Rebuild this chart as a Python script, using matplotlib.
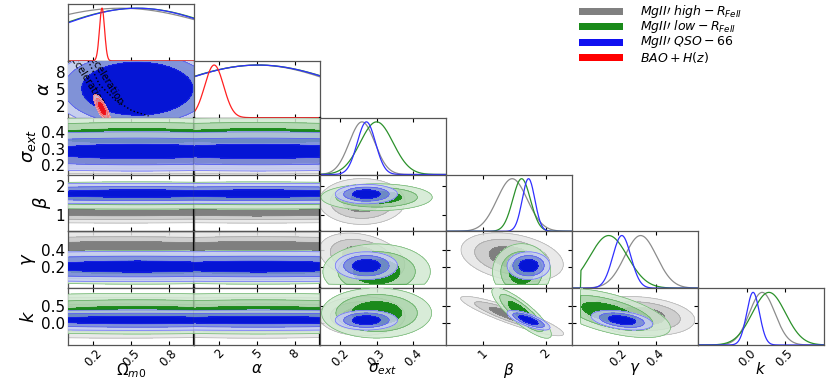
import numpy as np
import matplotlib.pyplot as plt
from matplotlib.colors import to_rgba
from matplotlib.patches import Rectangle

# parameters: Omega_m0, alpha, sigma_ext, beta, gamma, k
axis_labels = [r"$\Omega_{m0}$", r"$\alpha$", r"$\sigma_{ext}$", r"$\beta$", r"$\gamma$", r"$k$"]
ranges = [(0.0, 1.0), (0.0, 10.0), (0.145, 0.49), (0.42, 2.42), (-0.045, 0.625), (-0.65, 1.02)]
ticks = [[0.2, 0.5, 0.8], [2, 5, 8], [0.2, 0.3, 0.4], [1, 2], [0.2, 0.4], [0.0, 0.5]]
tick_text = [["0.2", "0.5", "0.8"], ["2", "5", "8"], ["0.2", "0.3", "0.4"],
             ["1", "2"], ["0.2", "0.4"], ["0.0", "0.5"]]
gamma_min = 0.0

legend_labels = [r"$MgII\prime\ high-R_{FeII}$", r"$MgII\prime\ low-R_{FeII}$",
                 r"$MgII\prime\ QSO-66$", r"$BAO+H(z)$"]
legend_colors = ["#808080", "#1a8a1a", "#1010f0", "#ff0000"]

# posterior summaries (mean, sd)
high_mean = [0.42, 5.0, 0.26, 1.47, 0.32, 0.20]
high_sd = [0.83, 7.0, 0.035, 0.24, 0.085, 0.17]
low_mean = [0.55, 5.1, 0.30, 1.62, 0.15, 0.29]
low_sd = [0.70, 7.3, 0.045, 0.14, 0.10, 0.22]
qso_mean = [0.55, 5.1, 0.272, 1.73, 0.22, 0.08]
qso_sd = [0.68, 7.2, 0.025, 0.10, 0.048, 0.085]

# the Omega / alpha columns show the bands at other places (sigma_ext, beta, gamma, k)
high_band_mean = [0.25, 1.10, 0.44, 0.15]
high_band_sd = [0.035, 0.13, 0.06, 0.20]
low_band_mean = [0.38, 1.68, 0.20, 0.27]
low_band_sd = [0.04, 0.16, 0.07, 0.20]
qso_band_mean = [0.285, 1.75, 0.21, 0.08]
qso_band_sd = [0.04, 0.12, 0.06, 0.10]

high_corr = {(2, 4): -0.3, (3, 4): -0.3, (3, 5): -0.9, (4, 5): -0.2}
low_corr = {(3, 5): -0.85, (4, 5): -0.6}
qso_corr = {(3, 5): -0.75, (4, 5): -0.4}

bao_mean = [0.27, 1.6]
bao_sd = [0.02, 0.75]
bao_corr = -0.8

# q0 = 0 line in the Omega-alpha panel
q0_omega = [0.16, 0.25, 0.38, 0.51, 0.64]
q0_alpha = [10.0, 5.8, 3.0, 1.2, 0.3]

line_colors = ["#8c8c8c", "#2b912b", "#3030ff", "#ff2020"]
fill_colors = [["#e6e6e6", "#c6c6c6", "#7f7f7f"],
               ["#d2e9d2", "#a6d2a6", "#1b8a1b"],
               ["#c6ccf4", "#7b8ae2", "#0515d5"],
               ["#fbd3d3", "#f29393", "#e8101c"]]

sets = [
    dict(mean=high_mean, sd=high_sd, bmean=high_band_mean, bsd=high_band_sd, corr=high_corr),
    dict(mean=low_mean, sd=low_sd, bmean=low_band_mean, bsd=low_band_sd, corr=low_corr),
    dict(mean=qso_mean, sd=qso_sd, bmean=qso_band_mean, bsd=qso_band_sd, corr=qso_corr),
    dict(mean=bao_mean, sd=bao_sd, corr={(0, 1): bao_corr}),
]

n = 6


def grid(i, num=240):
    lo, hi = ranges[i]
    return np.linspace(lo, hi, num)


def stats(d, i, col):
    # y parameter in the Omega/alpha columns uses the band values
    if col <= 1 and i >= 2:
        return d["bmean"][i - 2], d["bsd"][i - 2]
    return d["mean"][i], d["sd"][i]


def conf_levels(P):
    flat = np.sort(P.ravel())[::-1]
    cum = np.cumsum(flat)
    cum /= cum[-1]
    return [flat[np.searchsorted(cum, q)] for q in (0.997, 0.954, 0.683)]


fig = plt.figure(figsize=(8.31, 3.82), dpi=100)
gs = fig.add_gridspec(n, n, left=68 / 831, right=824 / 831, top=1 - 4 / 382,
                      bottom=1 - 345 / 382, wspace=0, hspace=0)

for r in range(n):
    for c in range(r + 1):
        ax = fig.add_subplot(gs[r, c])
        x = grid(c)
        if r == c:
            for k, d in enumerate(sets):
                if k == 3 and c > 1:
                    continue
                p = np.exp(-0.5 * ((x - d["mean"][c]) / d["sd"][c]) ** 2)
                if c == 4:
                    p[x < gamma_min] = 0
                ax.plot(x, p / p.max(), color=line_colors[k], lw=0.9)
            ax.set_ylim(0, 1.08)
            ax.set_yticks([])
        else:
            y = grid(r)
            X, Y = np.meshgrid(x, y)
            for k, d in enumerate(sets):
                if k == 3 and not (r == 1 and c == 0):
                    continue
                mx, sx = d["mean"][c], d["sd"][c]
                my, sy = stats(d, r, c)
                rho = d["corr"].get((c, r), 0.0)
                zx = (X - mx) / sx
                zy = (Y - my) / sy
                P = np.exp(-(zx ** 2 - 2 * rho * zx * zy + zy ** 2) / (2 * (1 - rho ** 2)))
                if c == 4:
                    P[X < gamma_min] = 0
                if r == 4:
                    P[Y < gamma_min] = 0
                lv = conf_levels(P)
                cols = [to_rgba(fill_colors[k][0], 0.85), to_rgba(fill_colors[k][1], 0.85),
                        to_rgba(fill_colors[k][2], 1.0)]
                ax.contourf(X, Y, P, levels=lv + [P.max() * 1.01], colors=cols, zorder=2 + k)
                ax.contour(X, Y, P, levels=lv, colors=[line_colors[k]], linewidths=0.5,
                           alpha=0.6, zorder=2 + k)
            ax.set_ylim(ranges[r])
            ax.set_yticks(ticks[r])
            if c == 0 and r == 1:
                ax.plot(q0_omega, q0_alpha, ls=":", color="black", lw=1.0, zorder=4.5)
                ax.text(0.145, 6.7, "Acceleration", rotation=-58, fontsize=7, ha="center",
                        va="center", zorder=4.6, clip_on=True)
                ax.text(0.29, 7.0, "Deceleration", rotation=-58, fontsize=7, ha="center",
                        va="center", zorder=4.6, clip_on=True)
            if c == 0:
                ax.set_yticklabels(tick_text[r])
                ax.set_ylabel(axis_labels[r], fontsize=13, labelpad=2)
            else:
                ax.set_yticklabels([])
        ax.set_xlim(ranges[c])
        ax.set_xticks(ticks[c])
        if r == n - 1:
            ax.set_xticklabels(tick_text[c], rotation=45)
            ax.set_xlabel(axis_labels[c], fontsize=11)
            ax.xaxis.set_label_coords(0.5, -0.29)
        else:
            ax.set_xticklabels([])
        ax.tick_params(direction="in", top=True, right=(r != c), length=3, width=0.8,
                       labelsize=11, pad=2)
        if r == n - 1:
            ax.tick_params(axis="x", labelsize=8.5, pad=1)
        for s in ax.spines.values():
            s.set_color("#555555")
            s.set_linewidth(0.9)
        if c <= 1 and r >= 2:
            ax.spines["right"].set_color("black")
            ax.spines["right"].set_linewidth(1.6)

# legend drawn by hand so the rows sit as close as in the original
for i, lab in enumerate(legend_labels):
    yc = 1 - (11.5 + 15.3 * i) / 382
    fig.add_artist(Rectangle((579 / 831, yc - 3.5 / 382), 44 / 831, 7 / 382,
                             transform=fig.transFigure, facecolor=legend_colors[i],
                             edgecolor="none"))
    fig.text(640 / 831, yc, lab, fontsize=9, va="center", ha="left")

fig.savefig("out.png", dpi=100)
